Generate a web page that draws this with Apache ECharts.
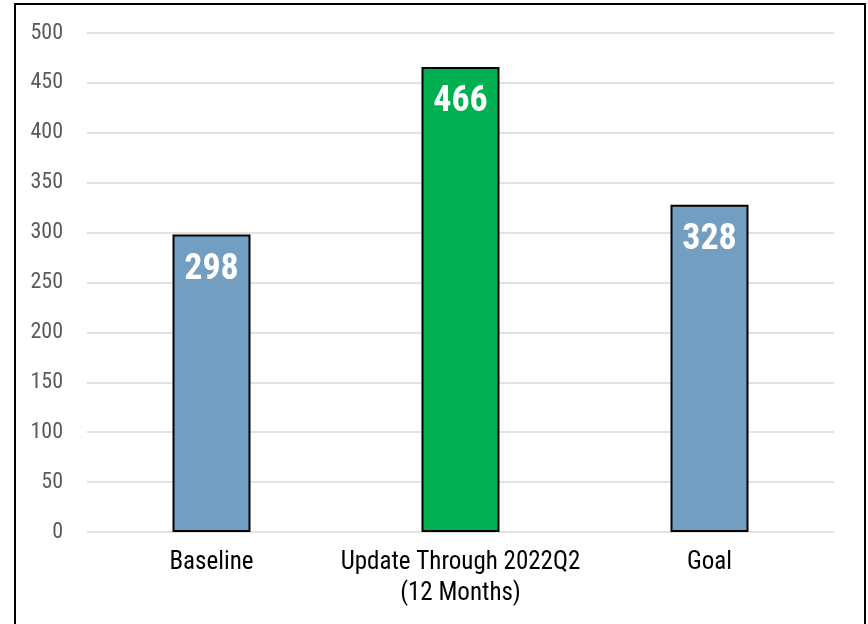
<!DOCTYPE html>
<html><head><meta charset="utf-8">
<script src="https://cdn.jsdelivr.net/npm/echarts@6/dist/echarts.min.js"></script>
<style>html,body{margin:0;padding:0;background:#fff}#c{width:868px;height:624px}</style>
</head><body><div id="c"></div>
<script>
const categories = ['Baseline', 'Update Through 2022Q2\n(12 Months)', 'Goal'];
const values = [298, 466, 328];
const barColors = ['#729FC1', '#00B050', '#729FC1'];
const yTicks = [0, 50, 100, 150, 200, 250, 300, 350, 400, 450, 500];

const font = '"Liberation Sans Narrow", "Arial Narrow", "Roboto Condensed", "Liberation Sans", sans-serif';
const chart = echarts.init(document.getElementById('c'));
chart.setOption({
  animation: false,
  graphic: [{
    type: 'rect', z: 100, silent: true,
    shape: { x: 15, y: 4, width: 850, height: 640 },
    style: { fill: 'none', stroke: '#000', lineWidth: 2 }
  }],
  grid: { left: 87, right: 34, top: 33, bottom: 92 },
  xAxis: {
    type: 'category', data: categories,
    axisLine: { show: false }, axisTick: { show: false },
    axisLabel: { interval: 0, hideOverlap: false, color: '#000', fontFamily: font, fontSize: 25, lineHeight: 31, margin: 15 }
  },
  yAxis: {
    type: 'value', min: yTicks[0], max: yTicks[yTicks.length - 1], interval: 50,
    axisLine: { show: false }, axisTick: { show: false },
    axisLabel: { color: '#595959', fontFamily: font, fontSize: 22, margin: 24 },
    splitLine: { lineStyle: { color: '#D9D9D9', width: 1.5 } }
  },
  series: [{
    type: 'bar', barWidth: 78,
    data: values.map((v, i) => ({ value: v, itemStyle: { color: barColors[i] } })),
    itemStyle: { borderColor: '#000', borderWidth: 2 },
    label: {
      show: true, position: 'insideTop', distance: 17,
      color: '#fff', fontFamily: font, fontWeight: 'bold', fontSize: 36
    }
  }]
});
</script></body></html>
